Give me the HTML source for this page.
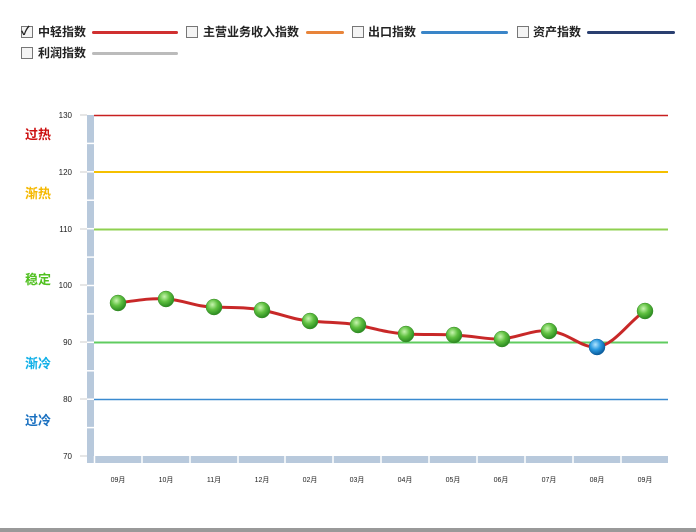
<!DOCTYPE html>
<html><head><meta charset="utf-8"><style>
body{margin:0;width:696px;height:532px;background:#fff;overflow:hidden;position:relative;font-family:"Liberation Sans","Noto Sans CJK SC",sans-serif}
.lg{position:absolute;font-size:12px;font-weight:bold;color:#222;line-height:14px}
.cb{position:absolute;width:10px;height:10px;border:1px solid #777;background:#f4f4f4}
.ln{position:absolute;height:3px;border-radius:2px}
</style></head><body>
<div class="cb" style="left:21px;top:26px"></div><div class="lg" style="left:21px;top:24px;font-size:12px">✓</div>
<div class="lg" style="left:38px;top:25px">中轻指数</div><div class="ln" style="left:92px;top:31px;width:86px;background:#d03030"></div>
<div class="cb" style="left:186px;top:26px"></div>
<div class="lg" style="left:203px;top:25px">主营业务收入指数</div><div class="ln" style="left:306px;top:31px;width:38px;background:#e8843a"></div>
<div class="cb" style="left:352px;top:26px"></div>
<div class="lg" style="left:368px;top:25px">出口指数</div><div class="ln" style="left:421px;top:31px;width:87px;background:#3a85c8"></div>
<div class="cb" style="left:517px;top:26px"></div>
<div class="lg" style="left:533px;top:25px">资产指数</div><div class="ln" style="left:587px;top:31px;width:88px;background:#2a3f70"></div>
<div class="cb" style="left:21px;top:47px"></div>
<div class="lg" style="left:38px;top:46px">利润指数</div><div class="ln" style="left:92px;top:52px;width:86px;background:#bbb"></div>
<svg width="696" height="532" style="position:absolute;left:0;top:0" font-family="Liberation Sans,Noto Sans CJK SC,sans-serif">
<defs><radialGradient id="g" cx="40%" cy="35%" r="65%"><stop offset="0" stop-color="#c8f5b0"/><stop offset=".5" stop-color="#5fc040"/><stop offset="1" stop-color="#2a8a20"/></radialGradient>
<radialGradient id="b" cx="40%" cy="35%" r="65%"><stop offset="0" stop-color="#b0e4ff"/><stop offset=".5" stop-color="#2a9ae0"/><stop offset="1" stop-color="#0a5a9a"/></radialGradient></defs>
<rect x="87" y="115" width="7" height="348" fill="#b8c9dc"/>
<rect x="94" y="456" width="574" height="7" fill="#b8c9dc"/>
<g stroke="#fff" stroke-width="1.5">
<line x1="87" x2="94" y1="143.4" y2="143.4"/><line x1="87" x2="94" y1="171.8" y2="171.8"/><line x1="87" x2="94" y1="200.2" y2="200.2"/><line x1="87" x2="94" y1="228.7" y2="228.7"/><line x1="87" x2="94" y1="257.1" y2="257.1"/><line x1="87" x2="94" y1="285.5" y2="285.5"/><line x1="87" x2="94" y1="313.9" y2="313.9"/><line x1="87" x2="94" y1="342.3" y2="342.3"/><line x1="87" x2="94" y1="370.8" y2="370.8"/><line x1="87" x2="94" y1="399.2" y2="399.2"/><line x1="87" x2="94" y1="427.6" y2="427.6"/>
<line x1="94.5" x2="94.5" y1="456" y2="463"/><line x1="142" x2="142" y1="456" y2="463"/><line x1="190" x2="190" y1="456" y2="463"/><line x1="238" x2="238" y1="456" y2="463"/><line x1="285" x2="285" y1="456" y2="463"/><line x1="333" x2="333" y1="456" y2="463"/><line x1="381" x2="381" y1="456" y2="463"/><line x1="429" x2="429" y1="456" y2="463"/><line x1="477" x2="477" y1="456" y2="463"/><line x1="525" x2="525" y1="456" y2="463"/><line x1="573" x2="573" y1="456" y2="463"/><line x1="621" x2="621" y1="456" y2="463"/>
</g>
<g stroke="#ccc"><line x1="80" x2="87" y1="115" y2="115"/><line x1="80" x2="87" y1="172" y2="172"/><line x1="80" x2="87" y1="229" y2="229"/><line x1="80" x2="87" y1="285" y2="285"/><line x1="80" x2="87" y1="342" y2="342"/><line x1="80" x2="87" y1="399" y2="399"/><line x1="80" x2="87" y1="456" y2="456"/></g>
<g font-size="8" fill="#222" text-anchor="end"><text x="72" y="118">130</text><text x="72" y="175">120</text><text x="72" y="232">110</text><text x="72" y="288">100</text><text x="72" y="345">90</text><text x="72" y="402">80</text><text x="72" y="459">70</text></g>
<line x1="94" x2="668" y1="115.5" y2="115.5" stroke="#c82020" stroke-width="1.5"/>
<line x1="94" x2="668" y1="172" y2="172" stroke="#f5c000" stroke-width="2"/>
<line x1="94" x2="668" y1="229.5" y2="229.5" stroke="#8fd050" stroke-width="2"/>
<line x1="94" x2="668" y1="342.5" y2="342.5" stroke="#60cc60" stroke-width="2"/>
<line x1="94" x2="668" y1="399.5" y2="399.5" stroke="#3a8ad0" stroke-width="1.5"/>
<g font-size="13" font-weight="bold"><text x="25" y="139" fill="#cc1010">过热</text><text x="25" y="198" fill="#f5b800">渐热</text><text x="25" y="284" fill="#50c020">稳定</text><text x="25" y="368" fill="#10b0e8">渐冷</text><text x="25" y="425" fill="#1a70c0">过冷</text></g>
<g font-size="7" fill="#222" text-anchor="middle"><text x="118" y="482">09月</text><text x="166" y="482">10月</text><text x="214" y="482">11月</text><text x="262" y="482">12月</text><text x="310" y="482">02月</text><text x="357" y="482">03月</text><text x="405" y="482">04月</text><text x="453" y="482">05月</text><text x="501" y="482">06月</text><text x="549" y="482">07月</text><text x="597" y="482">08月</text><text x="645" y="482">09月</text></g>
<path d="M118,303 C140,300 150,298 166,299 C185,300 195,307 214,307 C235,308 245,307 262,310 C285,315 295,320 310,321 C330,323 340,322 358,325 C380,330 390,333 406,334 C425,335 440,334 454,335 C475,336 490,340 502,339 C520,337 535,329 549,331 C570,333 580,348 597,347 C615,345 630,320 645,311" fill="none" stroke="#c82828" stroke-width="3"/>
<g stroke="#3a8a2a" stroke-width=".5" fill="url(#g)"><circle cx="118" cy="303" r="8"/><circle cx="166" cy="299" r="8"/><circle cx="214" cy="307" r="8"/><circle cx="262" cy="310" r="8"/><circle cx="310" cy="321" r="8"/><circle cx="358" cy="325" r="8"/><circle cx="406" cy="334" r="8"/><circle cx="454" cy="335" r="8"/><circle cx="502" cy="339" r="8"/><circle cx="549" cy="331" r="8"/><circle cx="645" cy="311" r="8"/></g>
<circle cx="597" cy="347" r="8" fill="url(#b)" stroke="#0a5a9a" stroke-width=".5"/>
<rect x="0" y="528" width="696" height="4" fill="#999"/>
</svg>
</body></html>
